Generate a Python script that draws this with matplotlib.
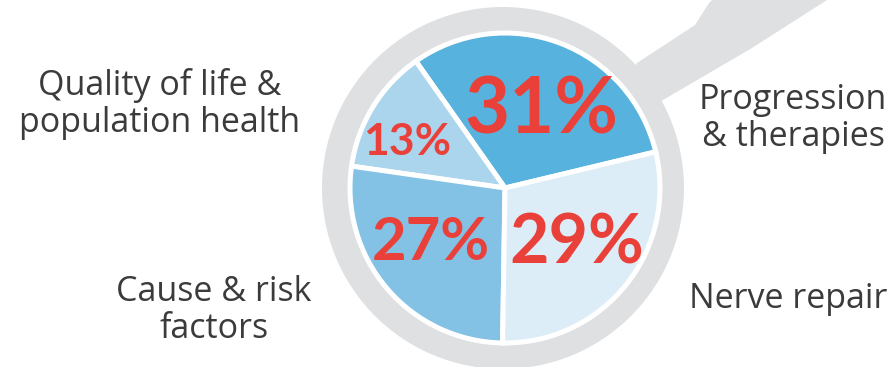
import matplotlib.pyplot as plt
from matplotlib.patches import Circle, Polygon

# data
categories = ['Progression\n& therapies', 'Quality of life &\npopulation health',
              'Cause & risk\nfactors', 'Nerve repair']
shares = [31, 13, 27, 29]
pct_labels = ['31%', '13%', '27%', '29%']

# styling
slice_colors = ['#58b2de', '#abd4ed', '#83c1e5', '#ddedf8']
red = '#e9413a'
grey = '#dfe0e2'
txt = '#3b3b3b'

W, H = 892, 367
cx, cy = 505, H - 188
r_pie = 155
r_ring = 181

fig = plt.figure(figsize=(W / 100, H / 100), dpi=100)
ax = fig.add_axes([0, 0, 1, 1])

# magnifier ring + handle (image coords, y flipped)
handle = [(620, 90), (637, 63), (695, 25), (709, 3), (712, 0), (827, 0),
          (752, 48), (663, 100), (640, 112)]
ax.add_patch(Polygon([(x, H - y) for x, y in handle], closed=True,
                     fc=grey, ec='none', zorder=0))
ax.add_patch(Circle((cx - 2, cy), r_ring, fc=grey, ec='none', zorder=0))

wedges, _ = ax.pie(shares, colors=slice_colors, startangle=13.5, counterclock=True,
                   center=(cx, cy), radius=r_pie,
                   wedgeprops=dict(edgecolor='white', linewidth=3.6))
for w in wedges:
    w.set_zorder(2)

# percentage labels: (x, baseline y, size) in image px
pct_pos = [(541, 133, 56), (407, 155, 32), (431, 260, 43), (577, 263, 49)]
for lab, (x, y, s) in zip(pct_labels, pct_pos):
    ax.text(x, H - y, lab, ha='center', va='baseline', fontsize=s,
            fontweight='bold', color=red, family='Lato', zorder=3)

# category labels (centre x, baseline of last line)
cat_pos = [(793, 146), (160, 132), (214, 338), (788, 308)]
for lab, (x, y) in zip(categories, cat_pos):
    ax.text(x, H - y, lab, ha='center', va='baseline', fontsize=24.5,
            color=txt, family='Open Sans', linespacing=1.12, multialignment='center')

ax.set_xlim(0, W)
ax.set_ylim(0, H)
ax.set_aspect('equal')
ax.axis('off')

fig.savefig('out.png', dpi=100)
